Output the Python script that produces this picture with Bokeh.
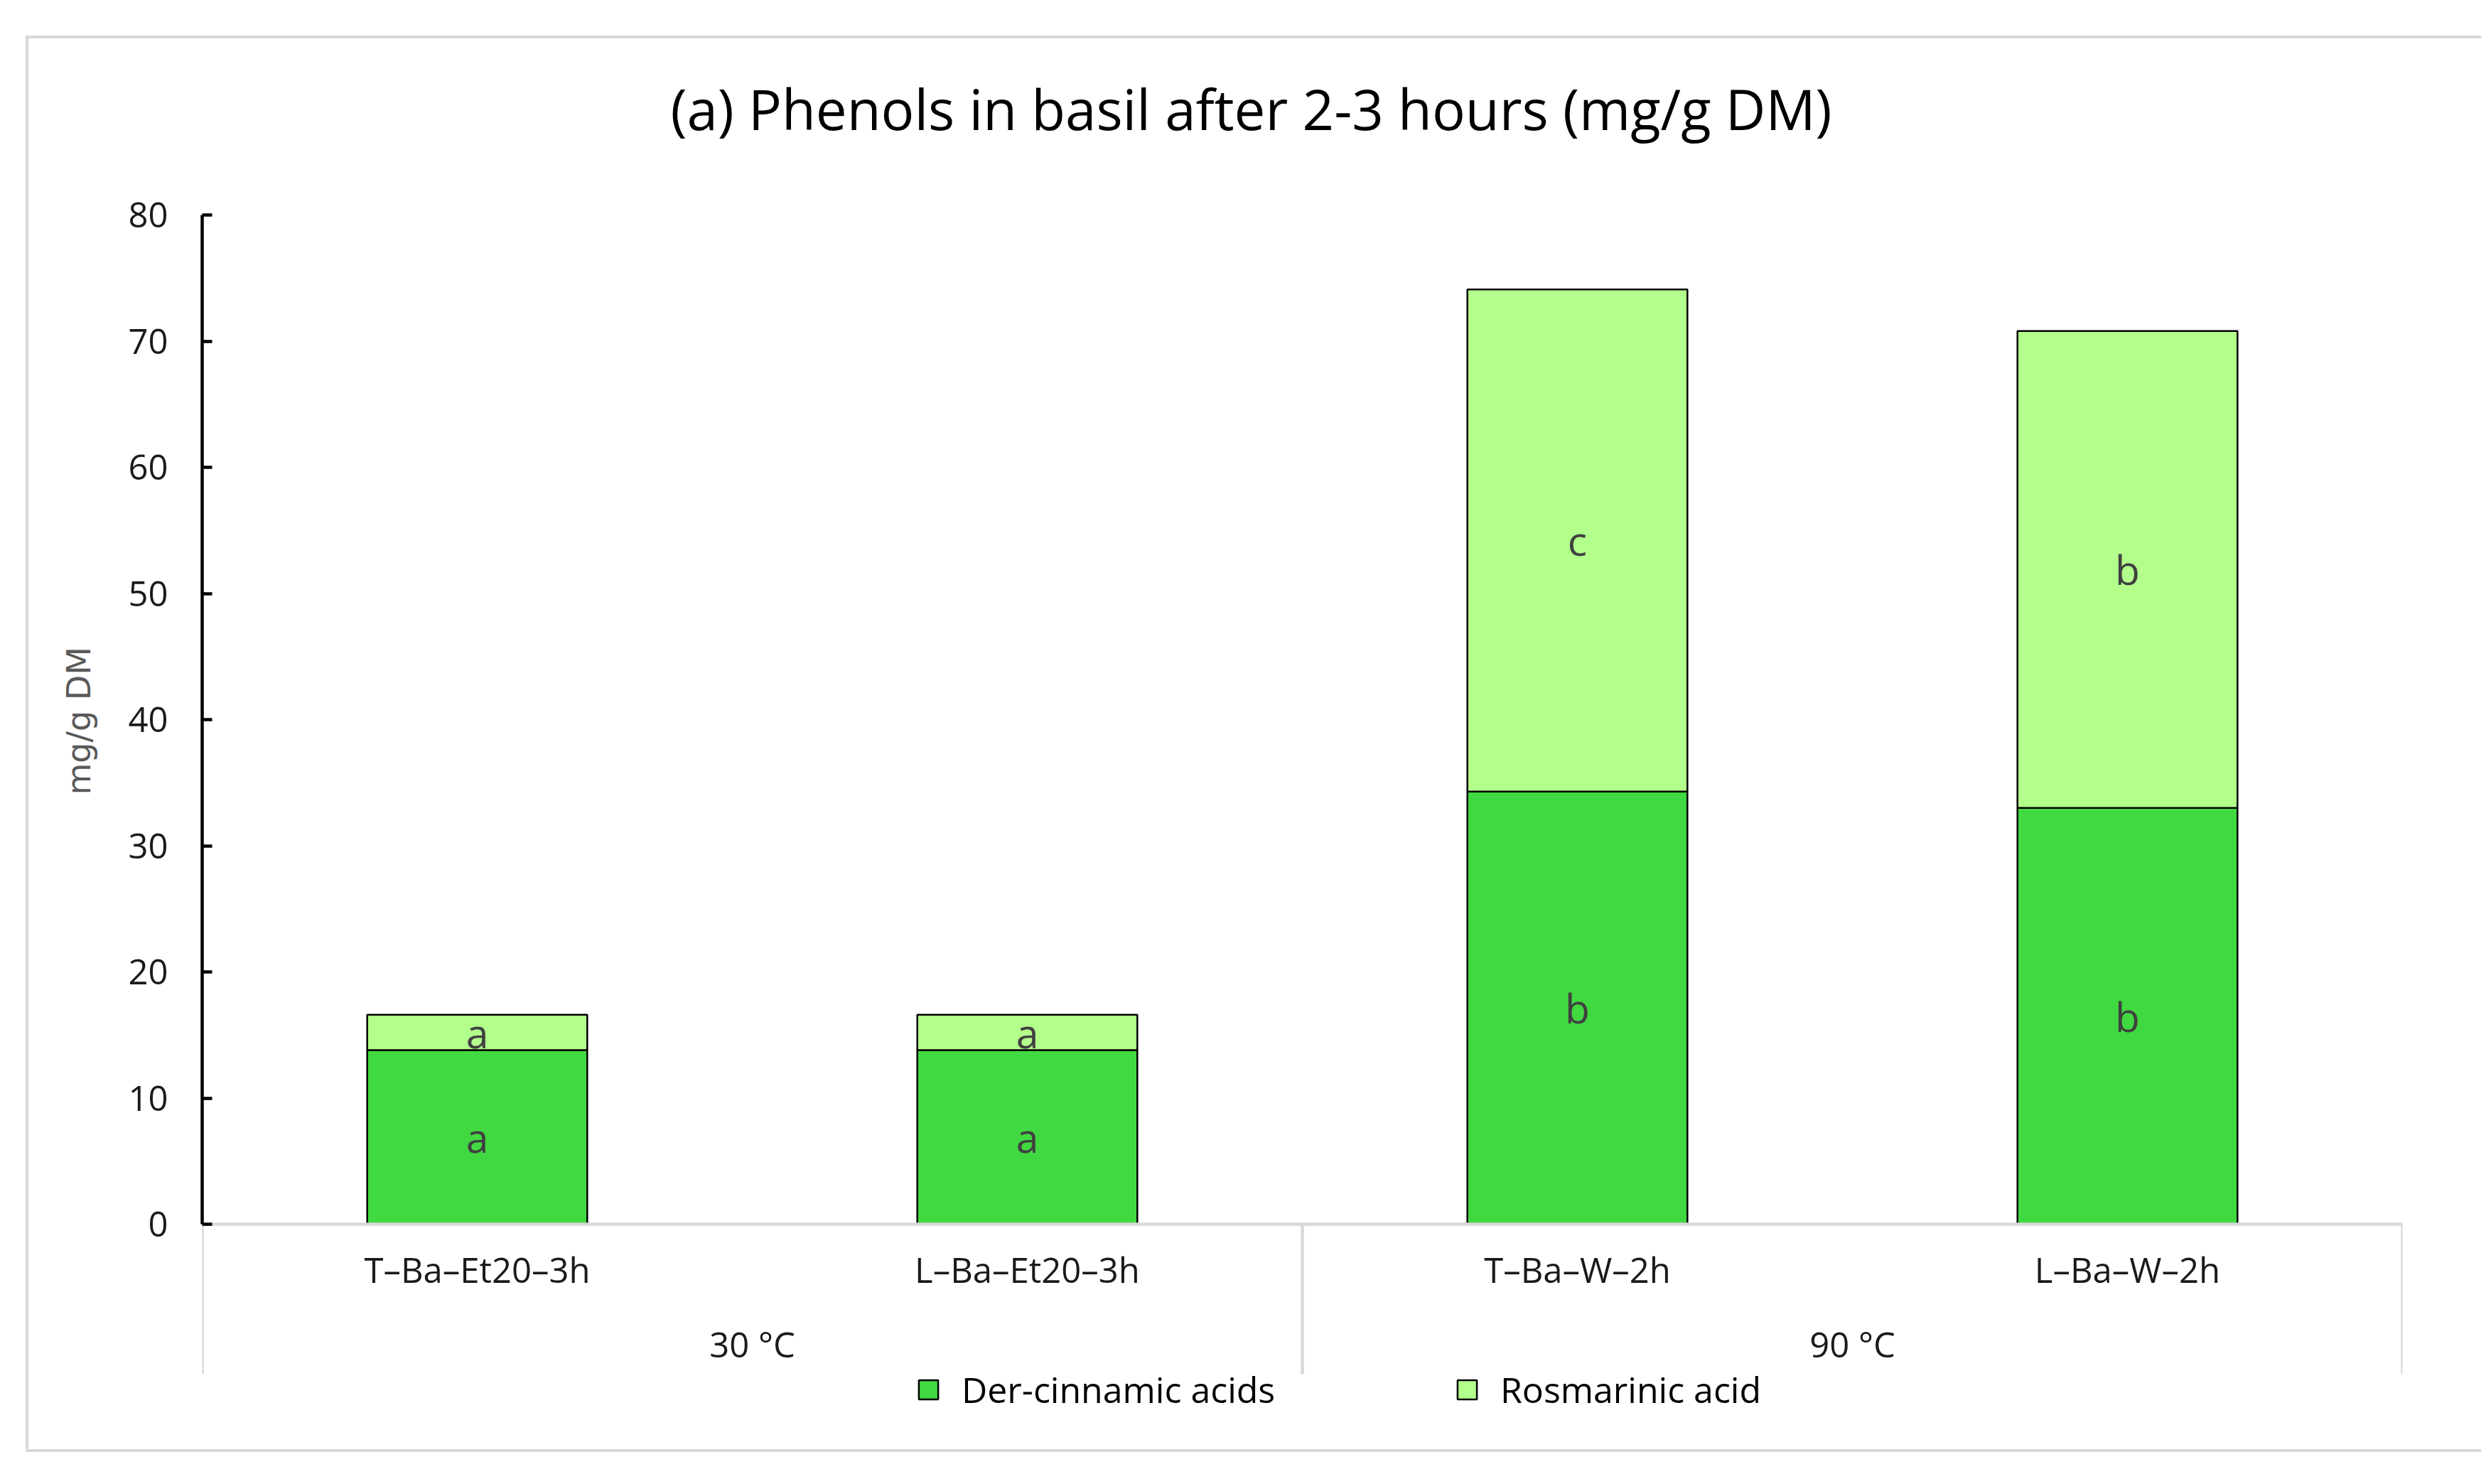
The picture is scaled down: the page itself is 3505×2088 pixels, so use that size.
from bokeh.plotting import figure
from bokeh.models import (FactorRange, Range1d, ColumnDataSource, FixedTicker,
                          Legend, LegendItem, Title, CategoricalAxis)
from bokeh.core.properties import value
from bokeh.embed import file_html
from bokeh.resources import INLINE

# ---------------- data ----------------
title_text = "(a) Phenols in basil after 2-3 hours (mg/g DM)"
temperatures = ["30 °C", "30 °C", "90 °C", "90 °C"]
samples = ["T–Ba–Et20–3h", "L–Ba–Et20–3h", "T–Ba–W–2h", "L–Ba–W–2h"]
der_cinnamic = [13.8, 13.8, 34.3, 33.0]
rosmarinic = [2.8, 2.8, 39.8, 37.8]
der_letters = ["a", "a", "b", "b"]
ros_letters = ["a", "a", "c", "b"]
y_ticks = [0, 10, 20, 30, 40, 50, 60, 70, 80]
series_names = ["Der-cinnamic acids", "Rosmarinic acid"]
y_label = "mg/g DM"

# ---------------- style ----------------
DARK = "#41d941"
LIGHT = "#b3ff8c"
GREY = "#d9d9d9"
TXT = "#1a1a1a"
FONT = "Open Sans"

W, H = 3489, 2072
FR_LEFT, FR_TOP, FR_RIGHT, FR_BOTTOM = 284, 302, 3380, 2030
Y_ZERO_PX = 1722
PX_PER_UNIT = (Y_ZERO_PX - FR_TOP) / y_ticks[-1]
y_min = -(FR_BOTTOM - Y_ZERO_PX) / PX_PER_UNIT
sep_bottom = -(1933 - Y_ZERO_PX) / PX_PER_UNIT

groups = []
for t in temperatures:
    if t not in groups:
        groups.append(t)

x_range = FactorRange(*samples, range_padding=0, factor_padding=0)

p = figure(x_range=x_range, y_range=Range1d(y_min, y_ticks[-1]),
           width=W, height=H, output_backend="svg", toolbar_location=None,
           min_border_left=FR_LEFT, min_border_top=FR_TOP,
           min_border_right=W - FR_RIGHT, min_border_bottom=H - FR_BOTTOM)
p.xgrid.visible = False
p.ygrid.visible = False
p.outline_line_color = None
p.background_fill_color = "white"
p.border_fill_color = "white"
p.extra_x_ranges = {"groups": FactorRange(*groups, range_padding=0, factor_padding=0)}

# light grey chart-area border (drawn on the figure element)
p.stylesheets = [""":host { position: relative; }
:host::after { content: ""; position: absolute; left: 36px; top: 50px;
  right: -2px; bottom: 29px; border: 4.5px solid #d9d9d9; border-right: none;
  box-sizing: border-box; pointer-events: none; }"""]

# separators of the two-level category axis
bounds = [0]
for g in groups:
    bounds.append(bounds[-1] + temperatures.count(g))
p.segment(x0=bounds, y0=[0] * len(bounds), x1=bounds, y1=[sep_bottom] * len(bounds),
          line_color=GREY, line_width=4.5)

# stacked bars
src = ColumnDataSource(dict(x=samples, der=der_cinnamic, ros=rosmarinic))
rs = p.vbar_stack(["der", "ros"], x="x", width=0.4, source=src,
                  fill_color=[DARK, LIGHT], line_color="black", line_width=2.5)

# letters in the bars
der_mid = [d / 2 for d in der_cinnamic]
ros_mid = [d + r / 2 for d, r in zip(der_cinnamic, rosmarinic)]
lab_src = ColumnDataSource(dict(x=samples + samples, y=der_mid + ros_mid,
                                t=der_letters + ros_letters))
p.text(x="x", y="y", text="t", source=lab_src, text_align="center",
       text_baseline="middle", text_font=value(FONT), text_font_size="57px",
       text_color="#404040")

# y axis
yax = p.yaxis[0]
yax.bounds = (0, y_ticks[-1])
yax.ticker = FixedTicker(ticks=y_ticks, minor_ticks=[])
yax.major_tick_in = 14
yax.major_tick_out = 0
yax.minor_tick_in = 0
yax.minor_tick_out = 0
yax.axis_line_width = 4.5
yax.axis_line_color = "black"
yax.major_tick_line_width = 4.5
yax.major_tick_line_color = "black"
yax.major_label_text_font = FONT
yax.major_label_text_font_size = "49px"
yax.major_label_text_color = TXT
yax.major_label_standoff = 48

# y axis title (left side, centred on the 0-80 span)
p.add_layout(Title(text=y_label, align="left", offset=912, standoff=80,
                   vertical_align="bottom", text_font="DejaVu Sans",
                   text_font_size="46px", text_font_style="normal",
                   text_color="#595959"), "left")

# x axis: sample labels, at y = 0
xax = p.xaxis[0]
xax.fixed_location = 0
xax.axis_line_color = GREY
xax.axis_line_width = 4.5
xax.major_tick_line_color = None
xax.major_tick_in = 0
xax.major_tick_out = 0
xax.minor_tick_line_color = None
xax.major_label_standoff = 30
xax.major_label_orientation = "horizontal"
xax.major_label_text_font = FONT
xax.major_label_text_font_size = "49px"
xax.major_label_text_color = TXT

# second category level: temperatures
gax = CategoricalAxis(x_range_name="groups", fixed_location=0,
                      axis_line_color=None, major_tick_line_color=None,
                      minor_tick_line_color=None, major_tick_in=0, major_tick_out=0,
                      major_label_standoff=135, major_label_orientation="horizontal",
                      major_label_text_font=FONT, major_label_text_font_size="49px",
                      major_label_text_color=TXT)
p.add_layout(gax, "below")

# title
p.title.text = title_text
p.title.text_font = FONT
p.title.text_font_size = "78px"
p.title.text_font_style = "normal"
p.title.text_color = "black"
p.title.align = "left"
p.title.offset = 659
p.title.vertical_align = "middle"
p.title.standoff = 192

# legends (one per series)
legend_x = [1005, 1763]
for r, name, lx in zip(rs, series_names, legend_x):
    leg = Legend(items=[LegendItem(label=name, renderers=[r])],
                 location=(lx, 41), orientation="horizontal",
                 glyph_width=34, glyph_height=34, label_standoff=30,
                 padding=0, margin=0, spacing=0,
                 border_line_color=None, background_fill_alpha=0,
                 label_text_font=FONT, label_text_font_size="50px",
                 label_text_color="black")
    p.add_layout(leg, "center")

open("out.html", "w").write(file_html(p, INLINE))
